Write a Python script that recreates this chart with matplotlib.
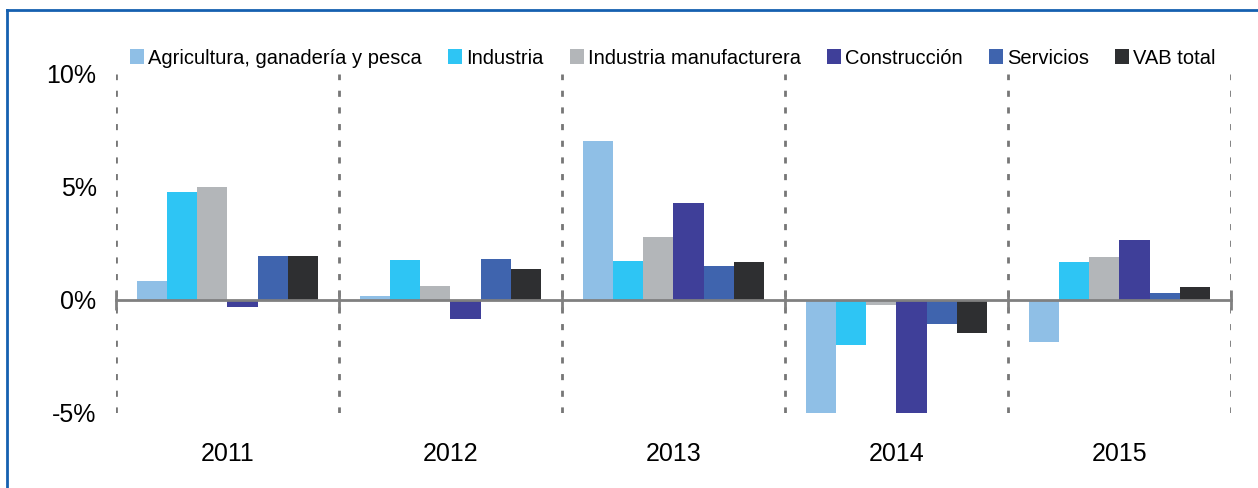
import numpy as np
import matplotlib
matplotlib.use("Agg")
import matplotlib.pyplot as plt
from matplotlib.lines import Line2D

plt.rcParams['font.family'] = ['Liberation Sans', 'DejaVu Sans']

years = ['2011', '2012', '2013', '2014', '2015']
sectors = ['Agricultura, ganadería y pesca', 'Industria', 'Industria manufacturera',
           'Construcción', 'Servicios', 'VAB total']
colors = ['#8FBFE6', '#2EC5F4', '#B3B6B9', '#3F3F99', '#3F64AE', '#2E2F31']

# crecimiento anual (%), 2014 agricultura y construccion salen del rango del eje
agricultura = [0.85, 0.18, 7.05, -6.0, -1.84]
industria = [4.77, 1.77, 1.74, -2.0, 1.67]
manufactura = [4.99, 0.62, 2.77, -0.2, 1.89]
construccion = [-0.3, -0.84, 4.28, -6.5, 2.65]
servicios = [1.95, 1.80, 1.50, -1.07, 0.32]
vab_total = [1.95, 1.39, 1.66, -1.47, 0.56]

series = [agricultura, industria, manufactura, construccion, servicios, vab_total]

fig = plt.figure(figsize=(12.58, 4.88), dpi=100)
ax = fig.add_axes([0.0922, 0.1537, 0.8863, 0.6947])

x = np.arange(1, len(years) + 1)
w = 0.135
for k, (vals, name, c) in enumerate(zip(series, sectors, colors)):
    ax.bar(x + (k - 2.5) * w, vals, width=w, color=c, label=name, zorder=2)

ax.set_xlim(0.5, len(years) + 0.5)
ax.set_ylim(-5, 10)
ax.set_yticks([-5, 0, 5, 10])
ax.set_yticklabels(['-5%', '0%', '5%', '10%'])
ax.tick_params(axis='y', length=0, labelsize=18, pad=14)

# eje de categorias sobre el cero
for s in ['left', 'right', 'top']:
    ax.spines[s].set_visible(False)
ax.spines['bottom'].set_position(('data', 0))
ax.spines['bottom'].set_color('#808080')
ax.spines['bottom'].set_linewidth(2)
ax.spines['bottom'].set_zorder(3)
ax.set_xticks(np.arange(0.5, len(years) + 1, 1))
ax.set_xticklabels([])
ax.tick_params(axis='x', direction='inout', length=14, width=2, color='#808080')
ax.grid(axis='x', color='#777777', linewidth=2, linestyle=(0, (2.2, 3.8)))
ax.set_axisbelow(True)

sec = ax.secondary_xaxis('bottom')
sec.set_xticks(x)
sec.set_xticklabels(years)
sec.tick_params(length=0, labelsize=18, pad=21)
sec.spines['bottom'].set_visible(False)

fig.legend(loc='center', bbox_to_anchor=(0.535, 0.881), ncol=6, frameon=False,
           fontsize=14.5, handlelength=0.7, handleheight=0.7, handletextpad=0.2,
           columnspacing=1.3)

# marco azul
border = '#1560B0'
fig.add_artist(Line2D([0.0056, 1.0], [0.9795, 0.9795], color=border, lw=2,
                      transform=fig.transFigure))
fig.add_artist(Line2D([0.0056, 0.0056], [0.0, 0.9795], color=border, lw=2,
                      transform=fig.transFigure))

fig.savefig('out.png', dpi=100)
